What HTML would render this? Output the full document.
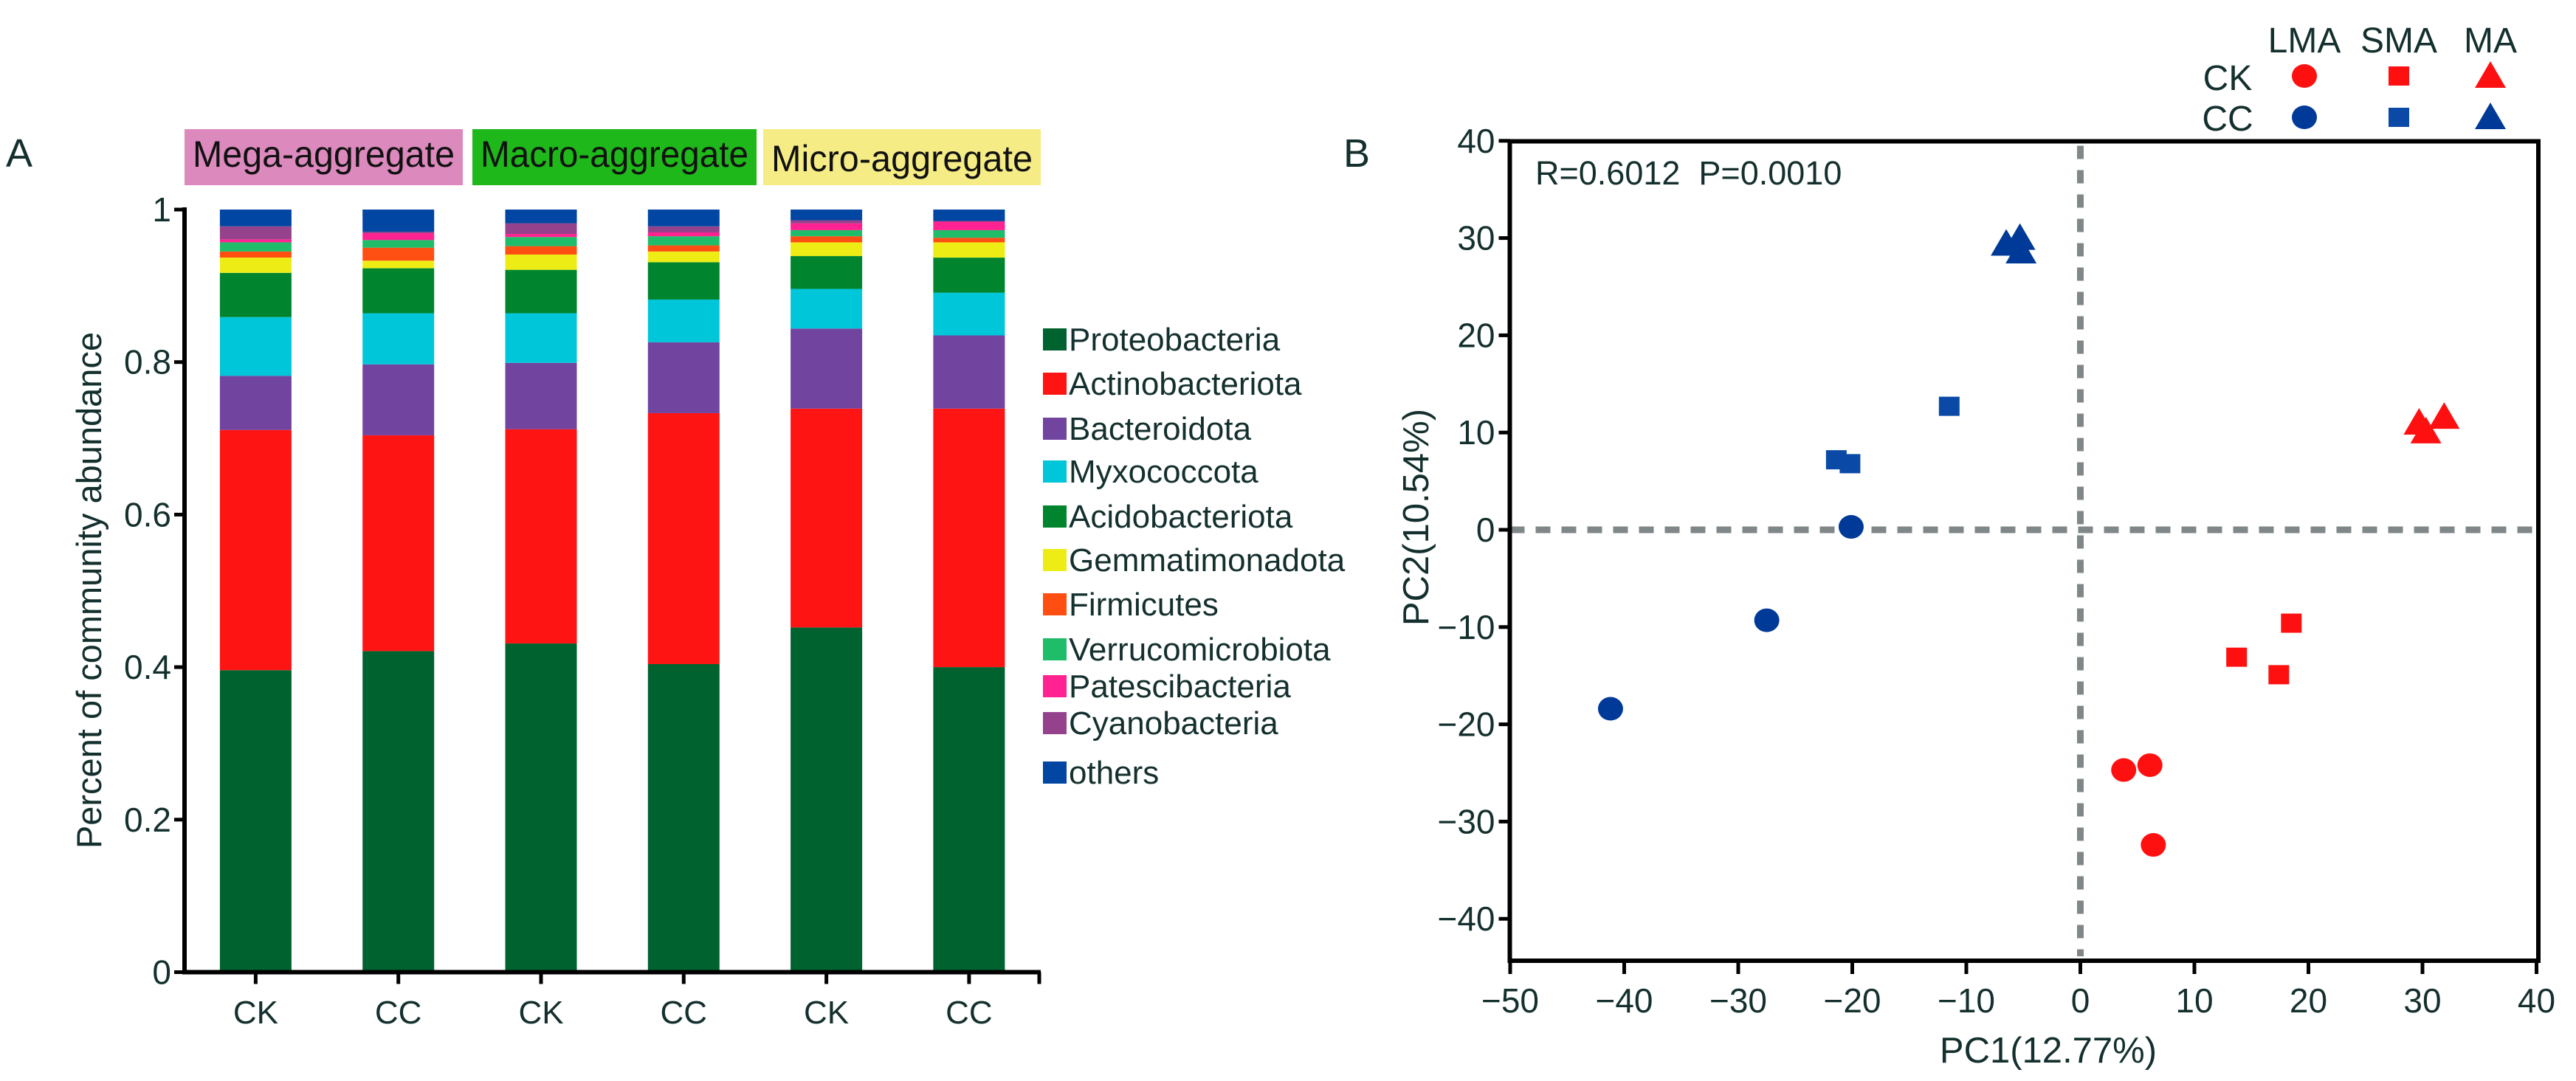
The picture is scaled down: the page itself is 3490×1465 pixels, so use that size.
<!DOCTYPE html>
<html><head><meta charset="utf-8"><style>
html,body{margin:0;padding:0;background:#fff;}
svg{display:block;}
text{font-family:"Liberation Sans",Arial,sans-serif;fill:#14302e;}
</style></head>
<body>
<svg id="fig" width="3490" height="1465" viewBox="0 0 3490 1465" xmlns="http://www.w3.org/2000/svg">
<rect width="3490" height="1465" fill="#fff"/>
<g id="panelA"></g>
<g id="panelB"></g>
</svg>
<script>
// ---------- Panel A data ----------
const barCategories = ["CK","CC","CK","CC","CK","CC"];
const phyla = ["Proteobacteria","Actinobacteriota","Bacteroidota","Myxococcota","Acidobacteriota","Gemmatimonadota","Firmicutes","Verrucomicrobiota","Patescibacteria","Cyanobacteria","others"];
const phylaColors = ["#00632f","#ff1414","#7144a0","#00c6d9","#00852e","#eded15","#ff4e12","#1fbd6a","#ff2290","#94428c","#0046a2"];
const proteobacteria   = [0.396,0.421,0.431,0.404,0.452,0.400];
const actinobacteriota = [0.315,0.283,0.281,0.329,0.287,0.339];
const bacteroidota     = [0.071,0.093,0.087,0.093,0.105,0.096];
const myxococcota      = [0.077,0.067,0.065,0.056,0.052,0.056];
const acidobacteriota  = [0.058,0.059,0.057,0.049,0.043,0.046];
const gemmatimonadota  = [0.020,0.010,0.020,0.014,0.018,0.020];
const firmicutes       = [0.008,0.017,0.011,0.008,0.008,0.006];
const verrucomicrobiota= [0.012,0.010,0.012,0.012,0.008,0.010];
const patescibacteria  = [0.004,0.009,0.004,0.005,0.009,0.011];
const cyanobacteria    = [0.017,0.002,0.014,0.008,0.004,0.001];
const others           = [0.022,0.029,0.018,0.022,0.014,0.015];
const barSeries = [proteobacteria,actinobacteriota,bacteroidota,myxococcota,acidobacteriota,gemmatimonadota,firmicutes,verrucomicrobiota,patescibacteria,cyanobacteria,others];
const yTicksA = [0,0.2,0.4,0.6,0.8,1];
const yTickLabelsA = ["0","0.2","0.4","0.6","0.8","1"];
const groupLabels = ["Mega-aggregate","Macro-aggregate","Micro-aggregate"];

// ---------- Panel B data ----------
const pcTreatment = ["CC","CC","CC","CC","CC","CC","CC","CC","CC","CK","CK","CK","CK","CK","CK","CK","CK","CK"];
const pcShape = ["circle","circle","circle","square","square","square","triangle","triangle","triangle","circle","circle","circle","square","square","square","triangle","triangle","triangle"];
const pc1 = [-41.2,-27.5,-20.1,-21.4,-20.2,-11.5,-6.5,-5.3,-5.2,3.8,6.1,6.4,13.7,17.4,18.5,29.7,31.9,30.3];
const pc2 = [-18.4,-9.3,0.3,7.2,6.8,12.7,29.4,30.0,28.6,-24.7,-24.2,-32.4,-13.1,-14.9,-9.6,11.0,11.6,10.1];
const xTicksB = [-50,-40,-30,-20,-10,0,10,20,30,40];
const yTicksB = [40,30,20,10,0,-10,-20,-30,-40];

const NS="http://www.w3.org/2000/svg";
function mk(tag, attrs, parent, txt){
  const e=document.createElementNS(NS,tag);
  for(const k in attrs) e.setAttribute(k,attrs[k]);
  if(txt!==undefined) e.textContent=txt;
  parent.appendChild(e); return e;
}
const A=document.getElementById('panelA');
const B=document.getElementById('panelB');

// ---- Panel A scales ----
const aX0=250, aY0=1317.5, aY1=284, aXend=1410;
const yA = v => aY0 - v*(aY0-aY1);
const barCenter = i => 346.4 + i*193.3;
const barW = 97;

let t=mk('text',{x:8,y:226,'font-size':54},A,'A');



const hdrX=[250,640,1034], hdrW=[377,385,376], hdrCol=["#dc89bd","#1fb81a","#f5ec85"];
for(let g=0;g<3;g++){
  const r=mk('rect',{x:hdrX[g],y:175,width:hdrW[g],height:76,fill:hdrCol[g]},A);
  
  
  const tx=mk('text',{x:hdrX[g]+hdrW[g]/2,y:g==2?232:226,'font-size':50,'text-anchor':'middle',textLength:hdrW[g]-22,lengthAdjust:'spacingAndGlyphs',style:'fill:#111'},A,groupLabels[g]);
  
  
}

for(let i=0;i<barCategories.length;i++){
  let cum=0;
  for(let s=0;s<barSeries.length;s++){
    const v=barSeries[s][i];
    const r=mk('rect',{x:barCenter(i)-barW/2,y:yA(cum+v),width:barW,height:yA(cum)-yA(cum+v),fill:phylaColors[s]},A);
    
    
    cum+=v;
  }
  const tk=mk('line',{x1:barCenter(i),x2:barCenter(i),y1:aY0,y2:aY0+16,stroke:'#000','stroke-width':5},A);
  
  
  const lb=mk('text',{x:barCenter(i),y:1387,'font-size':44,'text-anchor':'middle'},A,barCategories[i]);
  
  
}
let ax=mk('line',{x1:aX0,x2:aX0,y1:aY1-3,y2:aY0+3,stroke:'#000','stroke-width':6},A);


ax=mk('line',{x1:aX0-3,x2:aXend,y1:aY0,y2:aY0,stroke:'#000','stroke-width':6},A);


let te=mk('line',{x1:aXend-2,x2:aXend-2,y1:aY0,y2:aY0+16,stroke:'#000','stroke-width':5},A);


for(let k=0;k<yTicksA.length;k++){
  const y=yA(yTicksA[k]);
  const l=mk('line',{x1:aX0-14,x2:aX0,y1:y,y2:y,stroke:'#000','stroke-width':5},A);
  
  
  const tt=mk('text',{x:aX0-18,y:y+16,'font-size':46,'text-anchor':'end'},A,yTickLabelsA[k]);
  
  
}
let yt=mk('text',{x:0,y:0,'font-size':47,'text-anchor':'middle',transform:'translate(137,800) rotate(-90)'},A,'Percent of community abundance');


const legY=[460,520,581,639,700,759,819,880,930,980,1047];
for(let s=0;s<phyla.length;s++){
  const r=mk('rect',{x:1413,y:legY[s]-15,width:32,height:30,fill:phylaColors[s]},A);
  
  
  const tx=mk('text',{x:1448,y:legY[s]+15,'font-size':44},A,phyla[s]);
  
  
}

// ---- Panel B ----
const bL=2045.5, bR=3439, bT=191.5, bB=1302;
const xB = v => 2818.5 + v*15.45;
const yB = v => 718 - v*13.18;
const RED="#ff1010", BLUE="#003a98", SQBLUE="#0a4aa6";

t=mk('text',{x:1820,y:226,'font-size':54},B,'B');



let dz=mk('line',{x1:xB(0),x2:xB(0),y1:bT+6,y2:bB-6,stroke:'#7f8788','stroke-width':9,'stroke-dasharray':'18 15'},B);


dz=mk('line',{x1:bL,x2:bR,y1:yB(0),y2:yB(0),stroke:'#7f8788','stroke-width':9,'stroke-dasharray':'20 15'},B);



let fr=mk('rect',{x:bL,y:bT,width:bR-bL,height:bB-bT,fill:'none',stroke:'#000','stroke-width':6},B);



for(const v of xTicksB){
  const l=mk('line',{x1:xB(v),x2:xB(v),y1:bB,y2:bB+18,stroke:'#000','stroke-width':5},B);
  
  
  const tx=mk('text',{x:xB(v),y:1372,'font-size':46,'text-anchor':'middle'},B,(v<0?'\u2212':'')+Math.abs(v));
  
  
}
for(const v of yTicksB){
  const l=mk('line',{x1:bL-15,x2:bL,y1:yB(v),y2:yB(v),stroke:'#000','stroke-width':5},B);
  
  
  const tx=mk('text',{x:bL-20,y:yB(v)+16,'font-size':46,'text-anchor':'end'},B,(v<0?'\u2212':'')+Math.abs(v));
  
  
}
let xl=mk('text',{x:2775,y:1440,'font-size':49,'text-anchor':'middle'},B,'PC1(12.77%)');


let yl=mk('text',{x:0,y:0,'font-size':49,'text-anchor':'middle',transform:'translate(1935,701) rotate(-90)'},B,'PC2(10.54%)');


let st=mk('text',{x:2080,y:250,'font-size':45},B,'R=0.6012\u00a0 P=0.0010');



function marker(shape,cx,cy,col,parent){
  if(shape==='circle') return mk('ellipse',{cx:cx,cy:cy,rx:17,ry:16,fill:col},parent);
  if(shape==='square') return mk('rect',{x:cx-14,y:cy-13,width:28,height:26,fill:col},parent);
  return mk('polygon',{points:`${cx},${cy-20} ${cx+21},${cy+16} ${cx-21},${cy+16}`,fill:col},parent);
}
for(let i=0;i<pc1.length;i++){
  const col = pcTreatment[i]==='CK'?RED:(pcShape[i]==='square'?SQBLUE:BLUE);
  const m=marker(pcShape[i],xB(pc1[i]),yB(pc2[i]),col,B);
  
  
}
const legCols=[["LMA",3122,"circle"],["SMA",3250,"square"],["MA",3374,"triangle"]];
for(const c of legCols){
  const h=mk('text',{x:c[1],y:71,'font-size':48,'text-anchor':'middle'},B,c[0]);
  
  
}
const legRows=[["CK",103,122],["CC",159,177]];
for(const r of legRows){
  const h=mk('text',{x:3018,y:r[2],'font-size':48,'text-anchor':'middle'},B,r[0]);
  
  
  for(const c of legCols){
    const col = r[0]==='CK'?RED:(c[2]==='square'?SQBLUE:BLUE);
    const m=marker(c[2],c[1],r[1],col,B);
    
    
  }
}
</script>
</body></html>
